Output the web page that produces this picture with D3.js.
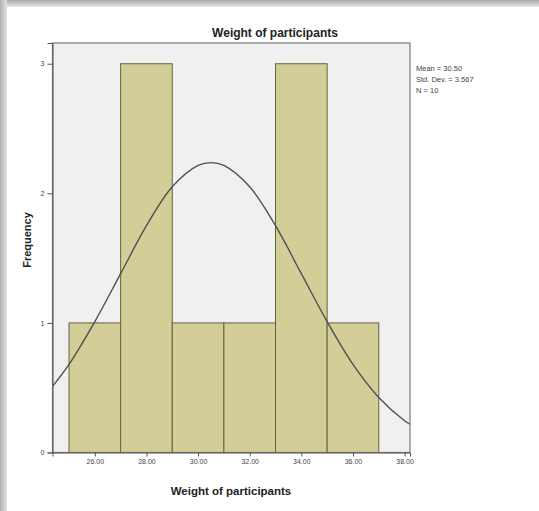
<!DOCTYPE html>
<html>
<head>
<meta charset="utf-8">
<script src="https://cdn.jsdelivr.net/npm/d3@7"></script>
<style>
  body { margin: 0; background: #fff; }
  svg { display: block; font-family: "Liberation Sans", Arial, sans-serif; }
</style>
</head>
<body>
<div id="chart"></div>
<script>
// Histogram bins (lower edge) and their counts
const binStarts = [25, 27, 29, 31, 33, 35];
const binWidth = 2;
const counts = [1, 3, 1, 1, 3, 1];

// Tick values
const xTicks = [26, 28, 30, 32, 34, 36, 38];
const yTicks = [0, 1, 2, 3];

// Normal curve
const curveX = [24.36, 25, 26, 27, 28, 29, 30, 30.5, 31, 32, 33, 34, 35, 36, 37, 38, 38.21];
const curveY = [0.51, 0.68, 1.01, 1.38, 1.75, 2.05, 2.215, 2.237, 2.215, 2.05, 1.75, 1.38, 1.01, 0.68, 0.425, 0.245, 0.218];

const statsLines = ["Mean = 30.50", "Std. Dev. = 3.567", "N = 10"];

const W = 539, H = 511;
const plot = { left: 52.5, right: 410, top: 43, bottom: 452.5 };

const svg = d3.select("#chart").append("svg")
    .attr("width", W)
    .attr("height", H);

// frame shadow (top and left edges)
const defs = svg.append("defs");
const gTop = defs.append("linearGradient").attr("id", "shTop")
    .attr("x1", 0).attr("y1", 0).attr("x2", 0).attr("y2", 1);
gTop.append("stop").attr("offset", "0%").attr("stop-color", "#a8a8a8");
gTop.append("stop").attr("offset", "100%").attr("stop-color", "#e6e6e6");
const gLeft = defs.append("linearGradient").attr("id", "shLeft")
    .attr("x1", 0).attr("y1", 0).attr("x2", 1).attr("y2", 0);
gLeft.append("stop").attr("offset", "0%").attr("stop-color", "#b0b0b0");
gLeft.append("stop").attr("offset", "100%").attr("stop-color", "#e2e2e2");

svg.append("rect").attr("x", 0).attr("y", 0).attr("width", W).attr("height", 7)
    .attr("fill", "url(#shTop)");
svg.append("rect").attr("x", 0).attr("y", 0).attr("width", 7).attr("height", H)
    .attr("fill", "url(#shLeft)");

// Scales
const x = d3.scaleLinear().domain([24.36, 38.21]).range([plot.left, plot.right]);
const y = d3.scaleLinear().domain([0, 3.16]).range([plot.bottom, plot.top]);

// Plot background
svg.append("rect")
    .attr("x", plot.left).attr("y", plot.top)
    .attr("width", plot.right - plot.left).attr("height", plot.bottom - plot.top)
    .attr("fill", "#f0f0f0");

// Bars
svg.append("g").selectAll("rect")
    .data(binStarts)
    .enter()
    .append("rect")
    .attr("x", d => x(d))
    .attr("y", (d, i) => y(counts[i]))
    .attr("width", d => x(d + binWidth) - x(d))
    .attr("height", (d, i) => y(0) - y(counts[i]))
    .attr("fill", "#d3cd98")
    .attr("stroke", "#65643a")
    .attr("stroke-width", 1);

// Normal curve
const line = d3.line()
    .x(d => x(d[0]))
    .y(d => y(d[1]))
    .curve(d3.curveCatmullRom);
svg.append("path")
    .datum(curveX.map((v, i) => [v, curveY[i]]))
    .attr("d", line)
    .attr("fill", "none")
    .attr("stroke", "#505050")
    .attr("stroke-width", 1.4);

// Plot border
svg.append("rect")
    .attr("x", plot.left).attr("y", plot.top)
    .attr("width", plot.right - plot.left).attr("height", plot.bottom - plot.top)
    .attr("fill", "none")
    .attr("stroke", "#7a7a7a")
    .attr("stroke-width", 1.2);

// X axis
const xAxis = svg.append("g")
    .attr("transform", `translate(0,${plot.bottom})`)
    .call(d3.axisBottom(x).tickValues(xTicks).tickFormat(d3.format(".2f")).tickSize(4).tickPadding(3));
xAxis.select(".domain").attr("stroke", "#555");
xAxis.selectAll(".tick line").attr("stroke", "#555");
xAxis.selectAll("text").attr("font-size", "7px").attr("fill", "#444")
    .attr("font-family", "Liberation Sans, Arial, sans-serif");

// Y axis
const yAxis = svg.append("g")
    .attr("transform", `translate(${plot.left},0)`)
    .call(d3.axisLeft(y).tickValues(yTicks).tickFormat(d3.format("d")).tickSize(5).tickPadding(3));
yAxis.select(".domain").attr("stroke", "#555");
yAxis.selectAll(".tick line").attr("stroke", "#555");
yAxis.selectAll("text").attr("font-size", "7px").attr("fill", "#444")
    .attr("font-family", "Liberation Sans, Arial, sans-serif");

// Title
svg.append("text")
    .attr("x", 275).attr("y", 37)
    .attr("text-anchor", "middle")
    .attr("font-size", "12px")
    .attr("font-weight", "bold")
    .attr("fill", "#222")
    .text("Weight of participants");

// X axis label
svg.append("text")
    .attr("x", 231).attr("y", 495)
    .attr("text-anchor", "middle")
    .attr("font-size", "11.5px")
    .attr("font-weight", "bold")
    .attr("fill", "#222")
    .text("Weight of participants");

// Y axis label
svg.append("text")
    .attr("transform", "translate(31,240) rotate(-90)")
    .attr("text-anchor", "middle")
    .attr("font-size", "11px")
    .attr("font-weight", "bold")
    .attr("fill", "#222")
    .text("Frequency");

// Stats
svg.append("g").selectAll("text")
    .data(statsLines)
    .enter()
    .append("text")
    .attr("x", 416)
    .attr("y", (d, i) => 71 + i * 11)
    .attr("font-size", "7.5px")
    .attr("fill", "#444")
    .text(d => d);
</script>
</body>
</html>
